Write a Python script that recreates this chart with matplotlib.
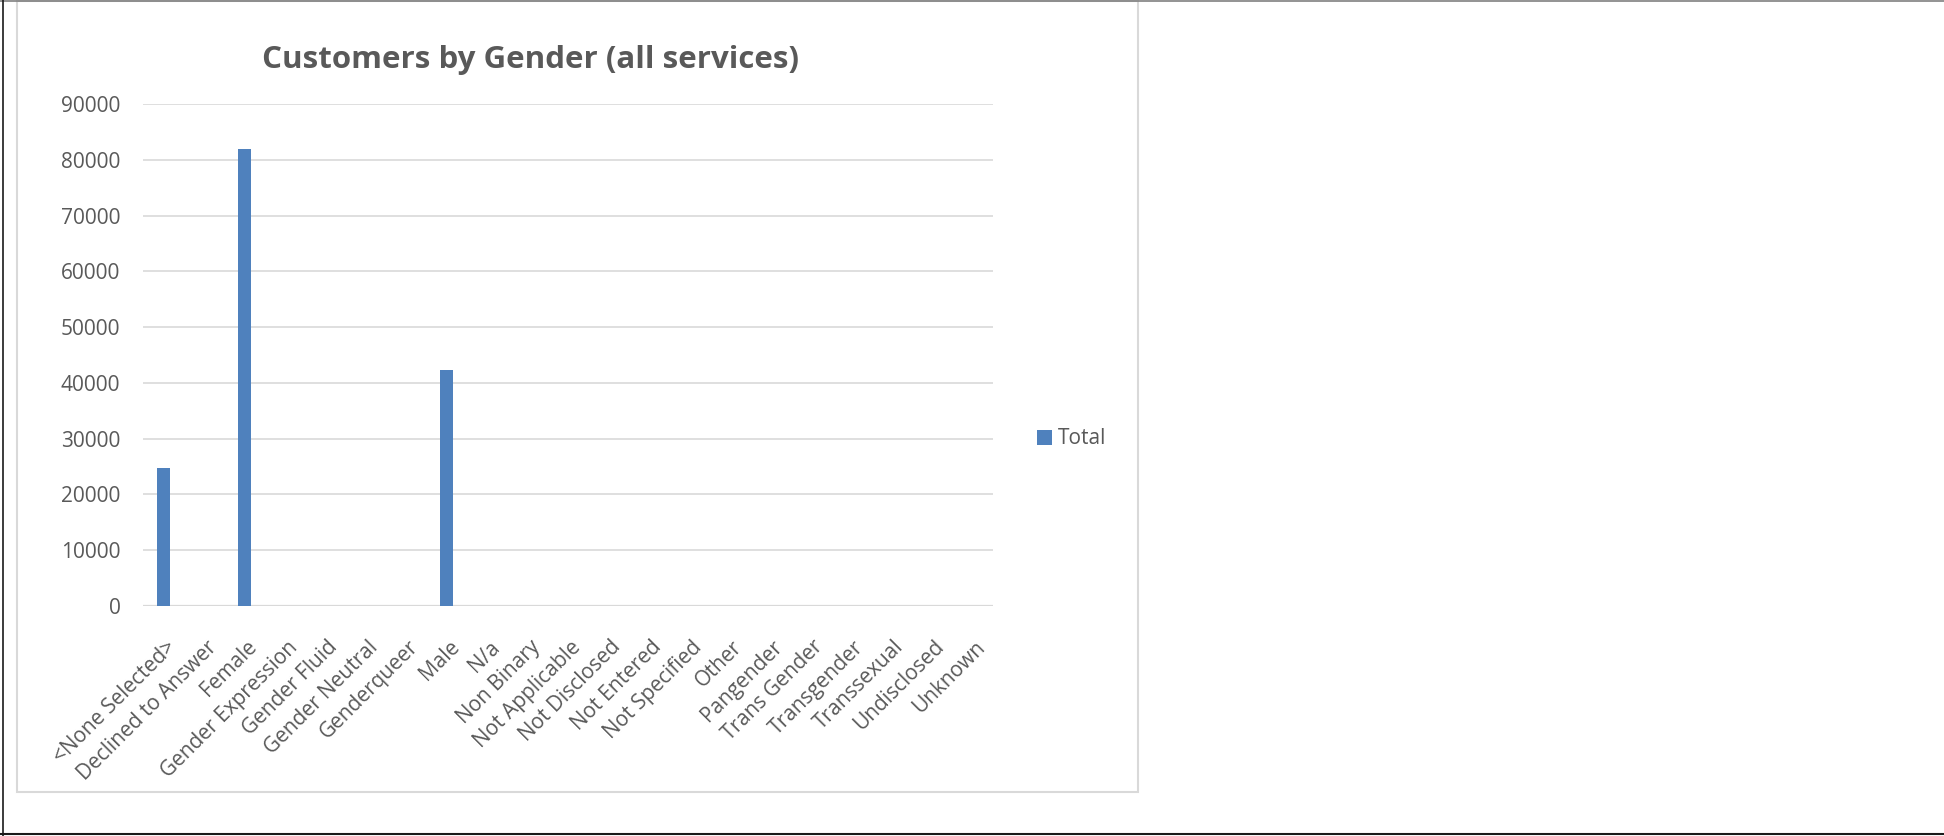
import matplotlib
matplotlib.use("Agg")
import matplotlib.pyplot as plt
import matplotlib.transforms as mtransforms
from matplotlib.patches import Rectangle
from matplotlib.lines import Line2D

# data
genders = ["<None Selected>", "Declined to Answer", "Female", "Gender Expression",
           "Gender Fluid", "Gender Neutral", "Genderqueer", "Male", "N/a",
           "Non Binary", "Not Applicable", "Not Disclosed", "Not Entered",
           "Not Specified", "Other", "Pangender", "Trans Gender", "Transgender",
           "Transsexual", "Undisclosed", "Unknown"]
totals = [24700, 0, 81900, 0, 0, 0, 0, 42400, 0, 0, 0, 0, 0, 0, 0, 0, 0, 0, 0, 0, 0]
y_ticks = [0, 10000, 20000, 30000, 40000, 50000, 60000, 70000, 80000, 90000]

TEXT = "#595959"
GRID = "#D9D9D9"
BLUE = "#4F81BD"

plt.rcParams["font.family"] = ["Open Sans", "DejaVu Sans"]

W, H = 1944, 836
fig = plt.figure(figsize=(W / 100, H / 100), dpi=100)
fig.patch.set_facecolor("white")

# plot area in pixels (left, top, right, bottom)
L, T, R, B = 143.4, 104, 992.5, 606
ax = fig.add_axes([L / W, (H - B) / H, (R - L) / W, (B - T) / H])

x = list(range(len(genders)))
bars = ax.bar(x, totals, width=0.32, color=BLUE, zorder=3, label="Total")

ax.set_xlim(-0.5, len(genders) - 0.5)
ax.set_ylim(0, 90000)
ax.set_yticks(y_ticks)
ax.set_yticklabels([str(v) for v in y_ticks])
ax.yaxis.grid(True, color=GRID, linewidth=1.2, zorder=0)
ax.set_axisbelow(True)
for s in ax.spines.values():
    s.set_visible(False)
ax.axhline(0, color=GRID, linewidth=1.6, zorder=2)

ax.tick_params(axis="y", length=0, pad=16.5, labelsize=15, labelcolor=TEXT)
ax.tick_params(axis="x", length=0, pad=22, labelsize=15, labelcolor=TEXT)
ax.set_xticks(x)
ax.set_xticklabels(genders, rotation=45, ha="right", va="top", rotation_mode="anchor")
offset = mtransforms.ScaledTranslation(2 / 100, 0, fig.dpi_scale_trans)
for lbl in ax.get_xticklabels():
    lbl.set_transform(lbl.get_transform() + offset)

fig.text(531 / W, (H - 60) / H, "Customers by Gender (all services)",
         ha="center", va="center", fontsize=22.5, fontweight="bold", color=TEXT)

leg = ax.legend(handles=[bars], labels=["Total"], loc="center left",
                bbox_to_anchor=(1037 / W, (H - 439) / H),
                bbox_transform=fig.transFigure, frameon=False, fontsize=15,
                handlelength=0.72, handleheight=0.72, handletextpad=0.3,
                borderpad=0, borderaxespad=0)
for t in leg.get_texts():
    t.set_color(TEXT)

# chart box and outer frame
fig.add_artist(Rectangle((16.5 / W, (H - 792) / H), 1121 / W, 791 / H,
                         transform=fig.transFigure, fill=False,
                         edgecolor=GRID, linewidth=1.5))
fig.add_artist(Line2D([0, 1], [1 - 0.5 / H, 1 - 0.5 / H], transform=fig.transFigure,
                      color="#808080", linewidth=1.2))
fig.add_artist(Line2D([2.5 / W, 2.5 / W], [0, 1], transform=fig.transFigure,
                      color="#1a1a1a", linewidth=1.2))
fig.add_artist(Line2D([0, 1], [2 / H, 2 / H], transform=fig.transFigure,
                      color="#1a1a1a", linewidth=1.5))

fig.savefig("out.png", dpi=100, facecolor="white")
